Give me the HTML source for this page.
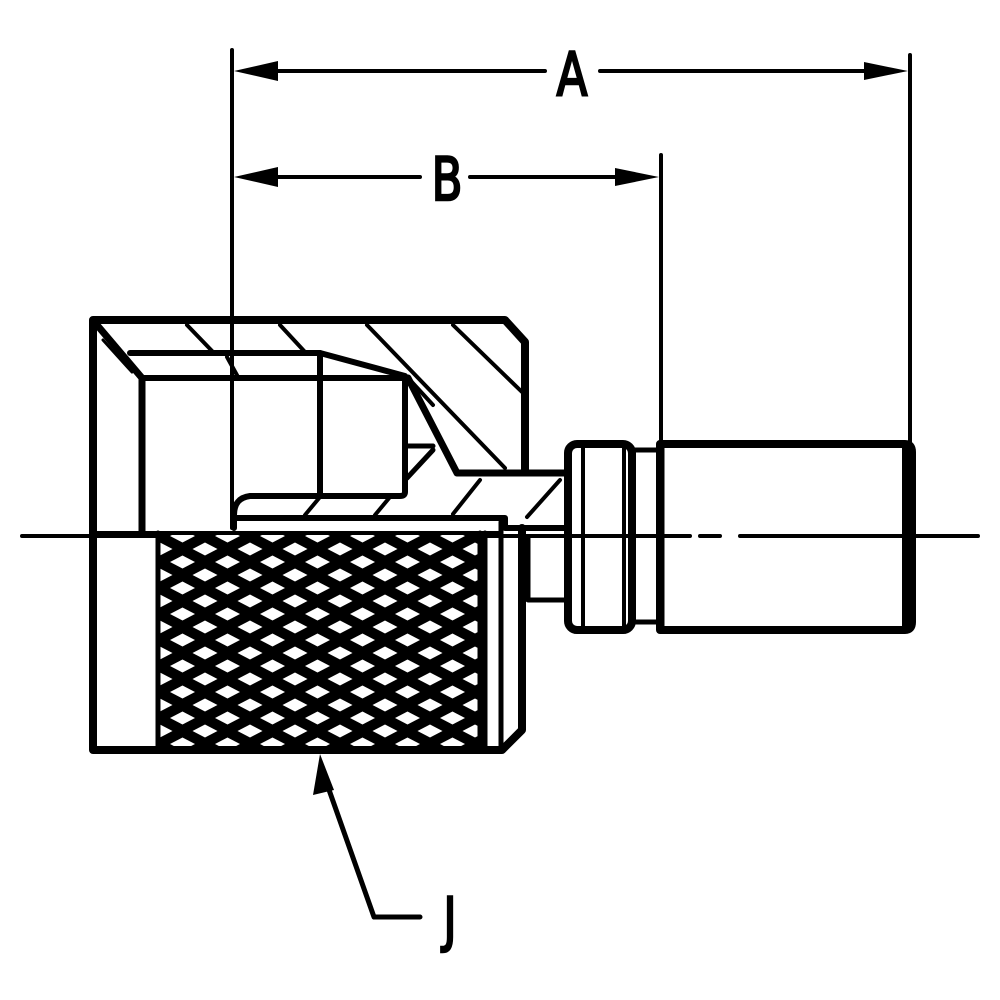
<!DOCTYPE html>
<html><head><meta charset="utf-8"><style>
html,body{margin:0;padding:0;background:#fff;}
svg{display:block;}
text{font-family:"DejaVu Sans","Liberation Sans",sans-serif;font-weight:normal;}
</style></head><body>
<svg width="1000" height="1000" viewBox="0 0 1000 1000" xmlns="http://www.w3.org/2000/svg">
<defs>
<pattern id="kn" x="160" y="536" width="45" height="26" patternUnits="userSpaceOnUse">
<rect width="45" height="26" fill="#000"/>
<polygon points="22.5,0 35,6.5 22.5,13 10,6.5" fill="#fff" transform="translate(-22.5,6.5)"/>
<polygon points="22.5,0 35,6.5 22.5,13 10,6.5" fill="#fff" transform="translate(22.5,6.5)"/>
<polygon points="22.5,0 35,6.5 22.5,13 10,6.5" fill="#fff" transform="translate(0,-6.5)"/>
<polygon points="22.5,0 35,6.5 22.5,13 10,6.5" fill="#fff" transform="translate(0,19.5)"/>
</pattern>
</defs>
<g fill="none" stroke="#000" stroke-linecap="round" stroke-linejoin="round">
<path d="M22 536 H158 M480 536 H690 M700 536 H720 M740 536 H978 M594 536 H615" stroke-width="4"/>
<path d="M232 50 V528 M910 55 V446" stroke-width="4"/>
<path d="M275 71 H545 M600 71 H865" stroke-width="4"/>
<path d="M661 155 V446" stroke-width="4"/>
<path d="M275 177 H420 M470 177 H615" stroke-width="4"/>
<path d="M322 770 L374 917 H420" stroke-width="5"/>
<rect x="158" y="533" width="322" height="216" fill="url(#kn)" stroke="none"/>
<path d="M93 320 H505 L525 342 V470 M93 320 V750 H502 L522 730 V528" stroke-width="8"/>
<path d="M158 533 V750 M480 533 V750 M485 533 V750 M501 522 V750" stroke-width="5"/>
<path d="M93 533 H500" stroke-width="4"/>
<path d="M97 325 L142 378 V533" stroke-width="7"/>
<path d="M103 340 L132 372" stroke-width="3"/>
<path d="M130 353 H320 L405 376 M142 378 H405 V492 Q405 496 400 496 H250 Q234 498 234 515 V528" stroke-width="6"/>
<path d="M320 353 V495" stroke-width="6"/>
<path d="M234 518 H505 V528 H566" stroke-width="6"/>
<path d="M407 446 H433 M407 478 L433 450" stroke-width="5"/>
<path d="M408 378 L457 473 H567" stroke-width="7"/>
<path d="M187 325 L213 352 M227 357 L238 377 M280 325 L305 352 M367 325 L505 468 M453 325 L522 392 M410 380 L433 405" stroke-width="4"/>
<path d="M480 480 L453 514 M560 480 L527 517 M305 515 L320 497 M375 515 L390 497" stroke-width="4"/>
<path d="M528 538 V600 H568" stroke-width="5"/>
<rect x="568" y="444" width="64" height="186" rx="9" stroke-width="8"/>
<path d="M583 448 V626 M624 448 V626" stroke-width="4"/>
<path d="M632 450 H660 M632 622 H660" stroke-width="5"/>
<path d="M660 444 H905 Q912 444 912 452 V622 Q912 630 905 630 H660 Z" stroke-width="8"/>
<path d="M662 444 V630" stroke-width="5"/>
<path d="M906 448 V626" stroke-width="8"/>
</g>
<g fill="#000">
<polygon points="234,71 278,61 278,81"/>
<polygon points="908,71 864,62 864,80"/>
<polygon points="234,177 278,167 278,187"/>
<polygon points="659,177 615,168 615,186"/>
<polygon points="320,754 313,795 334,790"/>
</g>
<g stroke="#000" stroke-width="2.5" fill="#000">
<text x="0" y="0" font-size="60" text-anchor="middle" transform="translate(572,95) scale(0.75,1)">A</text>
<text x="0" y="0" font-size="60" text-anchor="middle" transform="translate(447,200) scale(0.75,1)">B</text>
<text x="0" y="0" font-size="60" text-anchor="middle" transform="translate(450,940) scale(0.75,1)">J</text>
</g>
</svg>
</body></html>
